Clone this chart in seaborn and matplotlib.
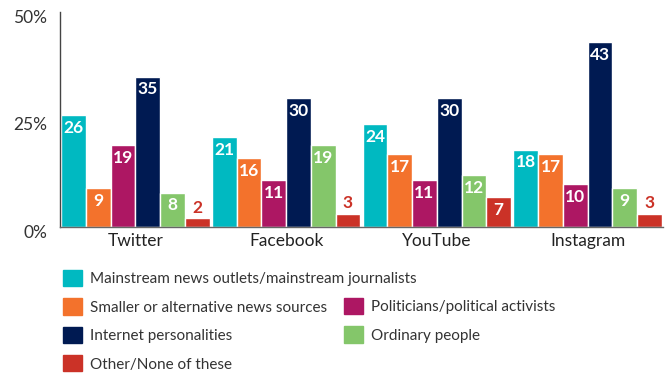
import pandas as pd
import matplotlib
matplotlib.use("Agg")
import matplotlib.pyplot as plt
import matplotlib.transforms as mtransforms
from matplotlib.patches import Patch
import seaborn as sns

platforms = ["Twitter", "Facebook", "YouTube", "Instagram"]
sources = ["Mainstream news outlets/mainstream journalists",
           "Smaller or alternative news sources",
           "Politicians/political activists",
           "Internet personalities",
           "Ordinary people",
           "Other/None of these"]
mainstream = [26, 21, 24, 18]
smaller = [9, 16, 17, 17]
politicians = [19, 11, 11, 10]
internet = [35, 30, 30, 43]
ordinary = [8, 19, 12, 9]
other = [2, 3, 7, 3]
colors = ["#00B9C1", "#F3722C", "#AD1763", "#001A52", "#84C66A", "#CB3227"]

series = [mainstream, smaller, politicians, internet, ordinary, other]
rows = []
for src, vals in zip(sources, series):
    for p, v in zip(platforms, vals):
        rows.append({"platform": p, "source": src, "value": v})
df = pd.DataFrame(rows)

sns.set_style("white")
plt.rcParams["font.family"] = ["Lato", "DejaVu Sans"]

fig = plt.figure(figsize=(6.69, 3.74), dpi=100)
ax = fig.add_axes([60 / 669, 1 - 227 / 374, 603 / 669, 215 / 374])

sns.barplot(data=df, x="platform", y="value", hue="source", order=platforms,
            hue_order=sources, palette=colors, width=0.985, gap=0,
            saturation=1, legend=False, ax=ax)

for i, cont in enumerate(ax.containers):
    for bar, v in zip(cont, series[i]):
        cx = bar.get_x() + bar.get_width() / 2
        h = bar.get_height()
        if v < 5:
            ax.annotate(str(v), (cx, h), xytext=(0, 2), textcoords="offset points",
                        ha="center", va="bottom", color=colors[5],
                        fontsize=12.5, fontweight="bold")
        else:
            ax.annotate(str(v), (cx, h), xytext=(0, -3.5), textcoords="offset points",
                        ha="center", va="top", color="white",
                        fontsize=12.5, fontweight="bold")

ax.set_ylim(0, 50)
ax.set_xlim(-0.5, 3.5)
ax.set_yticks([0, 25, 50])
ax.set_yticklabels(["0%", "25%", "50%"], fontsize=12.5, color="#333333")
ax.tick_params(axis="x", labelsize=12.5, colors="#222222", length=0, pad=4)
ax.tick_params(axis="y", length=0, pad=9)
shift = mtransforms.ScaledTranslation(0, -3 / 72, fig.dpi_scale_trans)
for lbl in ax.get_yticklabels():
    lbl.set_transform(lbl.get_transform() + shift)
ax.set_xlabel("")
ax.set_ylabel("")
for s in ["top", "right"]:
    ax.spines[s].set_visible(False)
ax.spines["left"].set_color("#444444")
ax.spines["bottom"].set_color("#666666")
ax.spines["left"].set_linewidth(1)
ax.spines["bottom"].set_linewidth(1)

leg_kw = dict(loc="upper left", frameon=False, fontsize=11,
              handlelength=1.25, handleheight=1.25, handletextpad=0.5,
              labelspacing=0.8, borderaxespad=0, borderpad=0,
              labelcolor="#333333")
left_idx = [0, 1, 3, 5]
right_idx = [2, 4]
fig.legend([Patch(color=colors[i]) for i in left_idx],
           [sources[i] for i in left_idx],
           bbox_to_anchor=(63 / 669, 1 - 270 / 374), **leg_kw)
fig.legend([Patch(color=colors[i]) for i in right_idx],
           [sources[i] for i in right_idx],
           bbox_to_anchor=(344 / 669, 1 - 298 / 374), **leg_kw)

fig.savefig("out.png", dpi=100)
